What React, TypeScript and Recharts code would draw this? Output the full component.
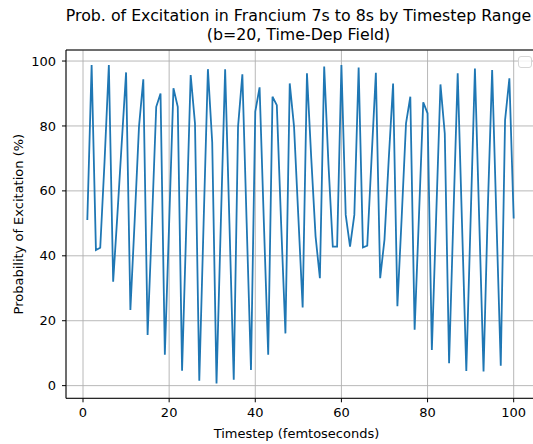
import React from 'react';
import {
  LineChart,
  Line,
  XAxis,
  YAxis,
  CartesianGrid,
  ReferenceLine,
  Label,
  Legend,
} from 'recharts';

// Timesteps (femtoseconds)
const timesteps: number[] = [
  1, 2, 3, 4, 5, 6, 7, 8, 9, 10,
  11, 12, 13, 14, 15, 16, 17, 18, 19, 20,
  21, 22, 23, 24, 25, 26, 27, 28, 29, 30,
  31, 32, 33, 34, 35, 36, 37, 38, 39, 40,
  41, 42, 43, 44, 45, 46, 47, 48, 49, 50,
  51, 52, 53, 54, 55, 56, 57, 58, 59, 60,
  61, 62, 63, 64, 65, 66, 67, 68, 69, 70,
  71, 72, 73, 74, 75, 76, 77, 78, 79, 80,
  81, 82, 83, 84, 85, 86, 87, 88, 89, 90,
  91, 92, 93, 94, 95, 96, 97, 98, 99, 100,
];

// Probability of excitation (%) at each timestep
const probability: number[] = [
  51.0, 98.8, 41.8, 42.5, 69.0, 98.8, 32.0, 53.0, 75.0, 96.5,
  23.3, 51.0, 79.8, 94.4, 15.6, 50.0, 85.9, 90.0, 9.5, 50.0,
  91.6, 85.9, 4.6, 50.0, 95.7, 80.8, 1.5, 50.0, 97.5, 75.0,
  0.7, 50.0, 97.5, 50.0, 1.8, 79.8, 95.9, 50.0, 4.8, 84.4,
  91.9, 50.0, 9.5, 89.0, 86.4, 50.0, 16.1, 93.1, 79.8, 52.0,
  24.1, 96.2, 70.0, 46.0, 33.1, 98.3, 68.0, 42.8, 42.8, 98.8,
  52.6, 42.8, 52.6, 98.0, 42.6, 43.1, 70.0, 96.4, 33.1, 45.0,
  70.0, 93.1, 24.5, 52.0, 80.8, 89.0, 17.2, 52.0, 87.3, 83.9,
  11.0, 52.0, 92.8, 77.7, 6.9, 52.0, 96.2, 50.0, 4.5, 51.0,
  97.7, 51.0, 4.4, 55.0, 97.2, 51.0, 6.1, 81.8, 94.7, 51.5,
];

const xTicks: number[] = [0, 20, 40, 60, 80, 100];
const yTicks: number[] = [0, 20, 40, 60, 80, 100];

const titleLines: string[] = [
  'Prob. of Excitation in Francium 7s to 8s by Timestep Range',
  '(b=20, Time-Dep Field)',
];

const rows = timesteps.map((t, i) => ({ t, p: probability[i] }));

const X_DOMAIN: [number, number] = [-3.95, 104.95];
const Y_DOMAIN: [number, number] = [-3.9, 103.4];

const FONT = '"DejaVu Sans", sans-serif';

const EmptyLegend = () => (
  <div
    style={{
      width: 12,
      height: 10,
      border: '1px solid #d6d6d6',
      borderRadius: 3,
      background: 'rgba(255,255,255,0.8)',
    }}
  />
);

export default function App() {
  return (
    <div
      style={{
        position: 'absolute',
        left: 0,
        top: 0,
        width: 533,
        height: 444,
        overflow: 'hidden',
        background: '#ffffff',
        fontFamily: FONT,
      }}
    >
      <div
        style={{
          position: 'absolute',
          left: 0,
          top: 6,
          width: 597,
          textAlign: 'center',
          fontSize: 15.8,
          lineHeight: '19px',
          color: '#000',
          whiteSpace: 'nowrap',
        }}
      >
        {titleLines.map((l) => (
          <div key={l}>{l}</div>
        ))}
      </div>
      <LineChart
        width={536}
        height={444}
        data={rows}
        margin={{ top: 50, right: 1, bottom: 0, left: 0 }}
        style={{ fontFamily: FONT }}
      >
        <CartesianGrid stroke="#b0b0b0" strokeWidth={0.9} />
        <XAxis
          dataKey="t"
          type="number"
          domain={X_DOMAIN}
          ticks={xTicks}
          allowDataOverflow
          height={45.7}
          tickSize={4}
          tickMargin={5}
          tick={{ fill: '#000', fontSize: 13 }}
          tickLine={{ stroke: '#000' }}
          axisLine={{ stroke: '#000' }}
        >
          <Label
            value="Timestep (femtoseconds)"
            position="insideBottom"
            offset={6}
            dx={-4}
            style={{ fill: '#000', fontSize: 13 }}
          />
        </XAxis>
        <YAxis
          type="number"
          domain={Y_DOMAIN}
          ticks={yTicks}
          allowDataOverflow
          width={66}
          tickSize={4}
          tickMargin={6}
          tick={{ fill: '#000', fontSize: 13 }}
          tickLine={{ stroke: '#000' }}
          axisLine={{ stroke: '#000' }}
        >
          <Label
            value="Probability of Excitation (%)"
            angle={-90}
            position="insideLeft"
            offset={18}
            style={{ fill: '#000', fontSize: 13, textAnchor: 'middle' }}
          />
        </YAxis>
        <ReferenceLine y={Y_DOMAIN[1]} stroke="#000" strokeWidth={1} ifOverflow="extendDomain" />
        <ReferenceLine x={X_DOMAIN[1]} stroke="#000" strokeWidth={1} ifOverflow="extendDomain" />
        <Legend
          layout="vertical"
          align="center"
          verticalAlign="middle"
          content={<EmptyLegend />}
          wrapperStyle={{ position: 'absolute', top: 56, left: 518, width: 14, height: 12 }}
        />
        <Line
          type="linear"
          dataKey="p"
          stroke="#1f77b4"
          strokeWidth={1.8}
          dot={false}
          isAnimationActive={false}
        />
      </LineChart>
    </div>
  );
}
